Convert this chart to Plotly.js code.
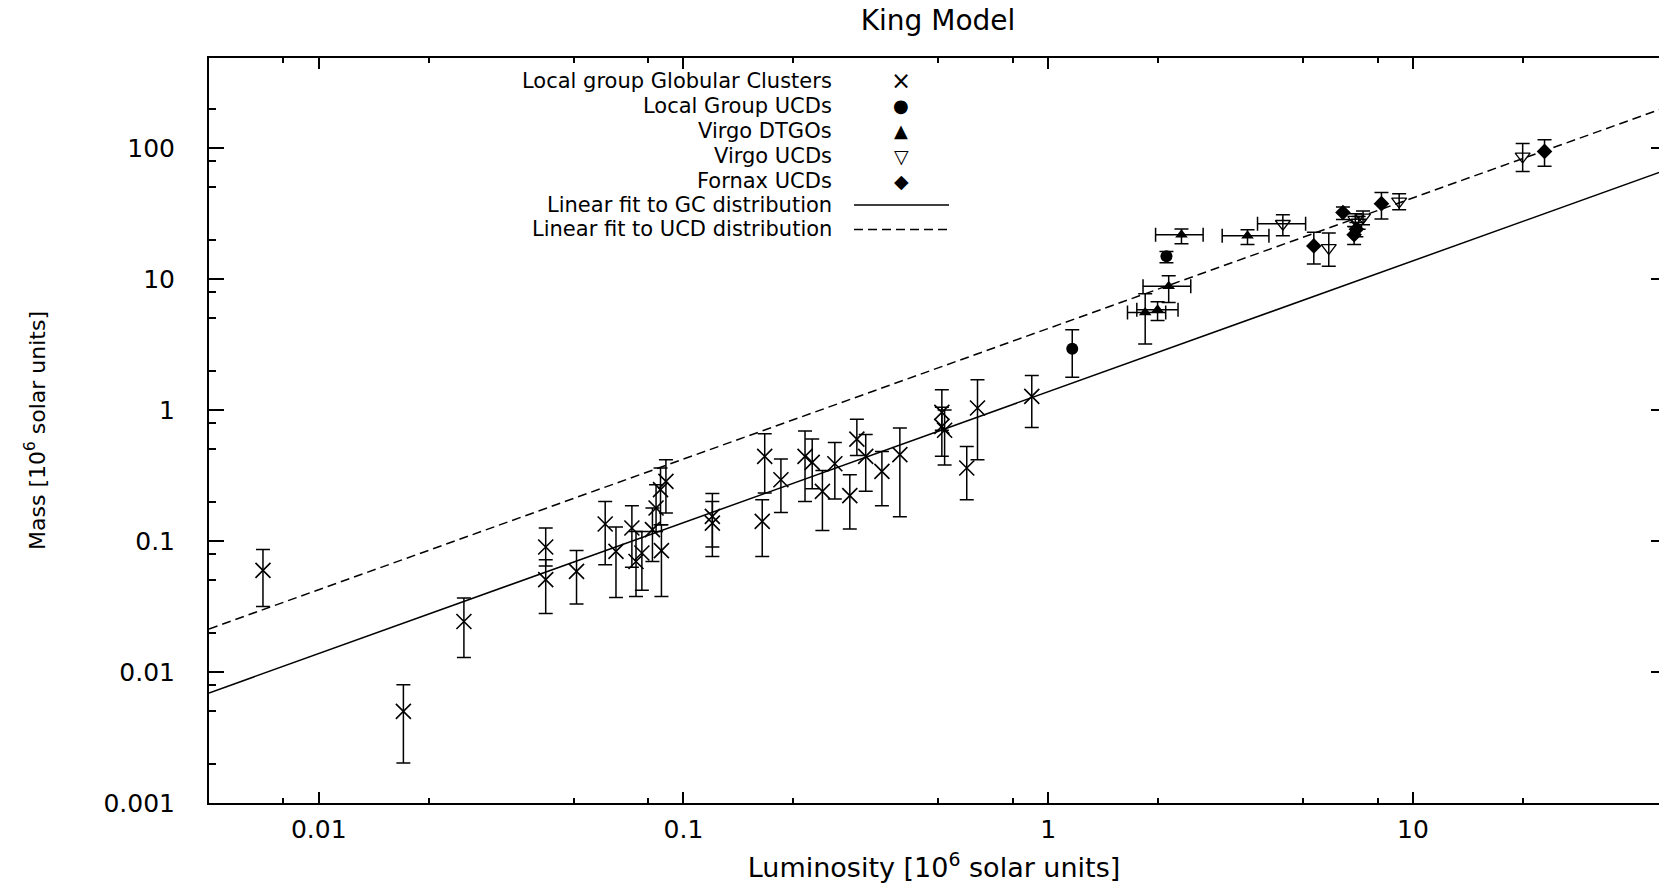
<!DOCTYPE html>
<html><head><meta charset="utf-8">
<script src="https://cdn.plot.ly/plotly-3.0.1.min.js"></script>
<style>html,body{margin:0;padding:0;background:#fff}</style>
</head><body>
<div id="chart" style="width:1659px;height:883px"></div>
<script>
// ---------- data ----------
const gcL  = [0.00703,0.01706,0.025,0.0419,0.0419,0.0509,0.061,0.0653,0.0722,0.0741,0.0769,0.0822,0.0841,0.0865,0.087,0.0895,0.12,0.12,0.1644,0.167,0.185,0.2154,0.2254,0.2404,0.26,0.2858,0.2988,0.316,0.35,0.392,0.511,0.511,0.52,0.598,0.64,0.9016];
const gcM  = [0.0596,0.0050,0.0243,0.090,0.0507,0.0586,0.1349,0.0833,0.1256,0.0698,0.081,0.122,0.1786,0.2466,0.0844,0.285,0.154,0.137,0.1413,0.4426,0.2937,0.4426,0.398,0.239,0.389,0.222,0.60,0.443,0.3396,0.456,0.96,0.75,0.70,0.361,1.035,1.27];
const gcMhi= [0.0863,0.0080,0.0367,0.1256,0.072,0.0848,0.2005,0.128,0.1858,0.1184,0.118,0.1786,0.269,0.3606,0.133,0.418,0.23,0.2,0.2065,0.659,0.4227,0.69,0.6,0.346,0.566,0.3206,0.85,0.65,0.483,0.73,1.43,1.05,1.0,0.527,1.70,1.83];
const gcMlo= [0.0316,0.00202,0.0129,0.0645,0.028,0.033,0.0659,0.0371,0.063,0.0377,0.042,0.0698,0.118,0.133,0.0377,0.1637,0.09,0.0762,0.0762,0.2323,0.165,0.2,0.25,0.1205,0.209,0.1236,0.45,0.24,0.186,0.153,0.7,0.443,0.38,0.2066,0.417,0.736];

const lgL   = [1.164, 2.11];
const lgM   = [2.94, 14.9];
const lgMhi = [4.1, 16.2];
const lgMlo = [1.776, 13.3];

const dtL   = [2.32, 3.52, 2.14, 1.845, 1.995];
const dtM   = [21.8, 21.4, 8.8, 5.56, 5.83];
const dtLhi = [2.66, 4.03, 2.46, 2.1, 2.27];
const dtLlo = [1.97, 3.0, 1.82, 1.65, 1.75];
const dtMhi = [24.1, 23.8, 10.6, 7.73, 6.7];
const dtMlo = [18.6, 18.3, 6.62, 3.19, 4.83];

const vuL   = [4.4, 5.88, 6.95, 7.1, 7.3, 9.17, 20.0];
const vuM   = [26.4, 17.3, 28.4, 27.0, 29.5, 39.1, 86.3];
const vuLhi = [5.08, null, null, null, null, null, null];
const vuLlo = [3.75, null, null, null, null, null, null];
const vuMhi = [31, 22.4, 31.5, 30, 33, 44.8, 108];
const vuMlo = [21.4, 12.5, 25, 24, 26, 33.8, 66.3];

const fxL   = [6.43, 5.35, 6.9, 7.0, 8.2, 22.96];
const fxM   = [32.2, 17.9, 21.8, 24, 37.6, 94.2];
const fxMhi = [35.5, 22.7, 25.2, 27, 45.8, 115.7];
const fxMlo = [28.4, 13.0, 18.3, 21, 28.7, 72.4];

const fitL    = [0.005, 50];
const gcFitM  = [0.00692, 68.7];
const ucdFitM = [0.0213, 207];

const xTickVals  = [0.01, 0.1, 1, 10];
const xTickText  = ['0.01', '0.1', '1', '10'];
const xMinorVals = [0.008, 0.02, 0.05, 0.08, 0.2, 0.5, 0.8, 2, 5, 8, 20];
const yTickVals  = [0.001, 0.01, 0.1, 1, 10, 100];
const yTickText  = ['0.001', '0.01', '0.1', '1', '10', '100'];
const yMinorVals = [0.002, 0.005, 0.008, 0.02, 0.05, 0.08, 0.2, 0.5, 0.8, 2, 5, 8, 20, 50, 80, 200];

const legendLabels = ['Local group Globular Clusters', 'Local Group UCDs', 'Virgo DTGOs', 'Virgo UCDs', 'Fornax UCDs', 'Linear fit to GC distribution', 'Linear fit to UCD distribution'];
const legendGlyphs = ['\u00D7', '\u25CF', '\u25B2', '\u25BD', '\u25C6', null, null];

// ---------- helpers ----------
const plus  = (v, hi) => v.map((d, i) => hi[i] == null ? NaN : hi[i] - d);
const minus = (v, lo) => v.map((d, i) => lo[i] == null ? NaN : d - lo[i]);
const FONT = 'DejaVu Sans, Arial, sans-serif';
const errStyle = {thickness: 1.5, width: 7, color: '#000'};

function eb(v, hi, lo) { return Object.assign({type: 'data', symmetric: false, array: plus(v, hi), arrayminus: minus(v, lo), visible: true}, errStyle); }

const traces = [
  {name: 'Linear fit to UCD distribution', x: fitL, y: ucdFitM, mode: 'lines',
   line: {color: '#000', width: 1.5, dash: '9px,5px'}},
  {name: 'Linear fit to GC distribution', x: fitL, y: gcFitM, mode: 'lines', yaxis: 'y2',
   line: {color: '#000', width: 1.5}},
  {name: 'Local group Globular Clusters', x: gcL, y: gcM, mode: 'markers',
   marker: {symbol: 'x-thin-open', size: 15, color: '#000', line: {color: '#000', width: 1.6}},
   error_y: eb(gcM, gcMhi, gcMlo)},
  {name: 'Local Group UCDs', x: lgL, y: lgM, mode: 'markers',
   marker: {symbol: 'circle', size: 12, color: '#000'},
   error_y: eb(lgM, lgMhi, lgMlo)},
  {name: 'Virgo DTGOs', x: dtL, y: dtM, mode: 'markers',
   marker: {symbol: 'triangle-up', size: 11, color: '#000'},
   error_y: eb(dtM, dtMhi, dtMlo), error_x: eb(dtL, dtLhi, dtLlo)},
  {name: 'Virgo UCDs', x: vuL, y: vuM, mode: 'markers',
   marker: {symbol: 'triangle-down-open', size: 13, color: '#000', line: {color: '#000', width: 1.3}},
   error_y: eb(vuM, vuMhi, vuMlo), error_x: eb(vuL, vuLhi, vuLlo)},
  {name: 'Fornax UCDs', x: fxL, y: fxM, mode: 'markers',
   marker: {symbol: 'diamond', size: 12, color: '#000'},
   error_y: eb(fxM, fxMhi, fxMlo)}
];
traces.forEach(t => { t.showlegend = false; t.hoverinfo = 'skip'; });

// plot-area geometry (pixels)
const W = 1659, H = 883, ML = 209, MR = 0, MT = 58, MB = 80;
const px2x = p => (p - ML) / (W - ML - MR);
const py2y = p => (H - MB - p) / (H - MT - MB);

const annotations = [];
const shapes = [];
const rowY = [81, 106, 130.5, 155.5, 180.5, 205, 229.5];
const glyphSize = [24, 18, 18, 19, 19];
legendLabels.forEach((lab, i) => {
  annotations.push({text: lab, xref: 'paper', yref: 'paper', x: px2x(833), y: py2y(rowY[i]),
    xanchor: 'right', yanchor: 'middle', showarrow: false, borderpad: 0, font: {family: FONT, size: 21, color: '#000'}});
  if (legendGlyphs[i]) {
    annotations.push({text: legendGlyphs[i], xref: 'paper', yref: 'paper', x: px2x(901), y: py2y(rowY[i]),
      xanchor: 'center', yanchor: 'middle', showarrow: false, borderpad: 0, font: {family: FONT, size: glyphSize[i], color: '#000'}});
  } else {
    shapes.push({type: 'line', xref: 'paper', yref: 'paper', x0: px2x(854), x1: px2x(949), y0: py2y(rowY[i]), y1: py2y(rowY[i]),
      line: {color: '#000', width: 1.5, dash: i === 6 ? '9px,5px' : 'solid'}});
  }
});

const xr = [Math.log10(0.005), Math.log10(0.005) + (W - ML - MR) / 364.7];
const yr = [-3, -3 + (H - MT - MB) / 131];

const layout = {
  width: W, height: H,
  margin: {l: ML, r: MR, t: MT, b: MB, pad: 0},
  paper_bgcolor: '#fff', plot_bgcolor: '#fff',
  font: {family: FONT, color: '#000'},
  title: {text: 'King Model', font: {family: FONT, size: 28, color: '#000'},
          xref: 'container', yref: 'container', x: 938 / W, xanchor: 'center', y: 1 - 20 / H, yanchor: 'middle'},
  showlegend: false,
  hovermode: false,
  xaxis: {type: 'log', range: xr, autorange: false,
    showline: true, linecolor: '#000', linewidth: 2, mirror: 'ticks',
    ticks: 'inside', ticklen: 11, tickwidth: 2, tickcolor: '#000',
    tickmode: 'array', tickvals: xTickVals, ticktext: xTickText,
    minor: {tickmode: 'array', tickvals: xMinorVals, ticks: 'inside', ticklen: 5, tickwidth: 2, tickcolor: '#000', showgrid: false},
    showgrid: false, zeroline: false, ticklabelstandoff: 3,
    tickfont: {family: FONT, size: 25, color: '#000'},
    title: {text: 'Luminosity [10<sup>6</sup> solar units]', font: {family: FONT, size: 27, color: '#000'}, standoff: 22}},
  yaxis: {type: 'log', range: yr, autorange: false,
    showline: true, linecolor: '#000', linewidth: 2, mirror: false,
    ticks: 'inside', ticklen: 15, tickwidth: 2, tickcolor: '#000',
    tickmode: 'array', tickvals: yTickVals, ticktext: yTickText,
    minor: {tickmode: 'array', tickvals: yMinorVals, ticks: 'inside', ticklen: 7, tickwidth: 2, tickcolor: '#000', showgrid: false},
    showgrid: false, zeroline: false, ticklabelstandoff: 27,
    tickfont: {family: FONT, size: 25, color: '#000'},
    title: {text: 'Mass [10<sup>6</sup> solar units]', font: {family: FONT, size: 22, color: '#000'}, standoff: 52}},
  yaxis2: {type: 'log', range: yr, autorange: false, overlaying: 'y', side: 'right', anchor: 'x',
    showline: false, ticks: 'inside', ticklen: 8, tickwidth: 2, tickcolor: '#000',
    tickmode: 'array', tickvals: yTickVals, showticklabels: false,
    showgrid: false, zeroline: false},
  annotations: annotations,
  shapes: shapes
};

Plotly.newPlot('chart', traces, layout, {staticPlot: true, displayModeBar: false});
</script></body></html>
